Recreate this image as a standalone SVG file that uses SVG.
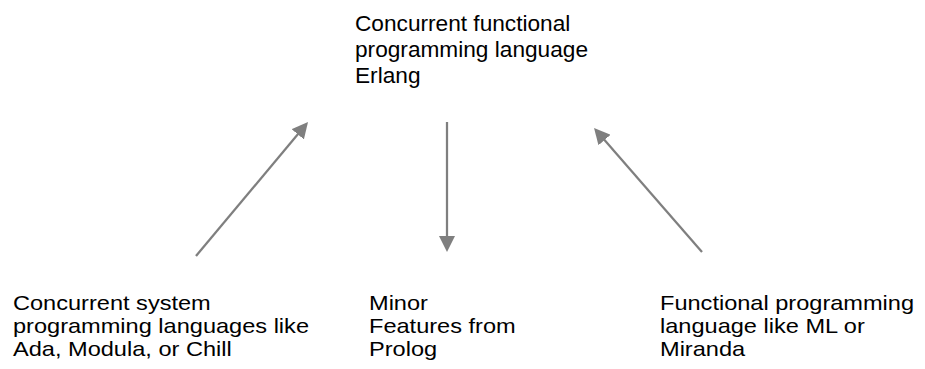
<svg xmlns="http://www.w3.org/2000/svg" width="925" height="369" viewBox="0 0 925 369">
  <style>
    .label { font-family: "Liberation Sans", Arial, sans-serif; font-size: 22px; fill: #000000; }
    .small { font-size: 20.5px; }
    .link { stroke: #7f7f7f; stroke-width: 2.25; fill: none; marker-end: url(#head); }
  </style>
  <defs>
    <marker id="head" viewBox="0 -8 16 16" refX="6" refY="0" markerWidth="16" markerHeight="16" markerUnits="userSpaceOnUse" orient="auto">
      <path d="M0,-8 L16,0 L0,8 z" fill="#7f7f7f"/>
    </marker>
  </defs>
  <rect width="925" height="369" fill="#ffffff"/>

  <!-- top box: slightly widened lettering -->
  <g id="erlang" transform="translate(355,0) scale(1.03,1)">
    <text class="label" x="0" y="31">Concurrent functional</text>
    <text class="label" x="0" y="57">programming language</text>
    <text class="label" x="0" y="83">Erlang</text>
  </g>

  <!-- bottom boxes: tighter lines, wider lettering -->
  <g id="concurrent-system" transform="translate(13,0) scale(1.15,1)">
    <text class="label small" x="0" y="310">Concurrent system</text>
    <text class="label small" x="0" y="333">programming languages like</text>
    <text class="label small" x="0" y="356">Ada, Modula, or Chill</text>
  </g>

  <g id="prolog" transform="translate(369,0) scale(1.15,1)">
    <text class="label small" x="0" y="310">Minor</text>
    <text class="label small" x="0" y="333">Features from</text>
    <text class="label small" x="0" y="356">Prolog</text>
  </g>

  <g id="functional" transform="translate(660,0) scale(1.15,1)">
    <text class="label small" x="0" y="310">Functional programming</text>
    <text class="label small" x="0" y="333">language like ML or</text>
    <text class="label small" x="0" y="356">Miranda</text>
  </g>

  <g id="connectors">
    <line class="link" x1="196" y1="256" x2="301.6" y2="129.7"/>
    <line class="link" x1="447" y1="122" x2="447" y2="242"/>
    <line class="link" x1="702" y1="252" x2="600.6" y2="135.5"/>
  </g>
</svg>
